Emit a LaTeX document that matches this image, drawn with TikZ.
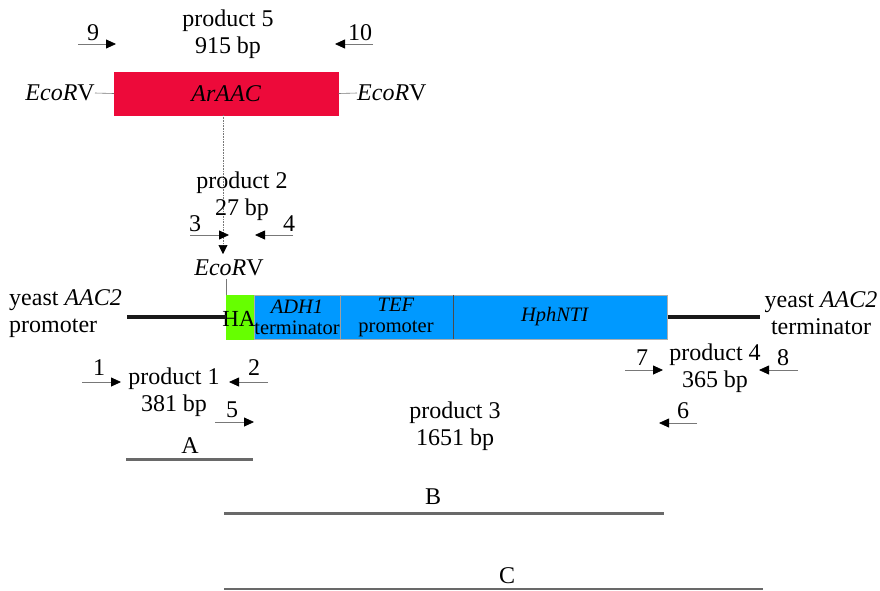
\documentclass[tikz,border=0pt]{standalone}
\usepackage{fontspec}
\setmainfont{Liberation Serif}
\usetikzlibrary{arrows.meta}
\definecolor{redbox}{RGB}{237,10,58}
\definecolor{bluebox}{RGB}{0,153,255}
\definecolor{greenbox}{RGB}{102,255,0}
\definecolor{shaft}{RGB}{120,120,120}
\definecolor{barcol}{RGB}{105,105,105}
\tikzset{
  txt/.style={font=\fontsize{24}{27}\selectfont, inner sep=0pt, align=center},
  smalltxt/.style={font=\fontsize{20.5}{21}\selectfont, inner sep=0pt, align=center},
  primer/.style={draw=shaft, line width=0.8pt, -{Triangle[length=10pt,width=9pt,color=black]}},
  thin/.style={draw=shaft, line width=0.6pt},
  gene/.style={draw=shaft!60, line width=0.5pt, minimum height=44pt, inner sep=0pt, anchor=west},
  backbone/.style={line width=4pt, draw=black!90},
  bar/.style={line width=3pt, draw=barcol}
}
\begin{document}
\begin{tikzpicture}[x=1pt,y=-1pt]
\useasboundingbox (0,0) rectangle (880,590);
% product 5
\node[txt] (p5) at (228,34) {product 5\\915 bp};
\node[txt] (n9) at (93,33) {9};
\coordinate (a9s) at (78,44); \coordinate (a9e) at (116,44);
\draw[primer] (a9s) -- (a9e);
\node[txt] (n10) at (360,33) {10};
\coordinate (a10s) at (373,44); \coordinate (a10e) at (335,44);
\draw[primer] (a10s) -- (a10e);
% ArAAC
\node[gene, fill=redbox, draw=redbox, minimum width=224pt, minimum height=43pt, txt] (araac) at (114,93.5) {\textit{ArAAC}};
\node[txt, anchor=east] (eL) at (95,93) {\textit{EcoR}V};
\node[txt, anchor=west] (eR) at (357,93) {\textit{EcoR}V};
\draw[thin] (eL.east) -- (araac.west);
\draw[thin] (araac.east) -- (eR.west);
% dotted line + arrowhead
\coordinate (dtop) at (223,115);
\coordinate (dbot) at (223,254);
\draw[draw=shaft, line width=0.6pt, densely dotted, -{Triangle[length=9pt,width=9pt,color=black]}] (dtop) -- (dbot);
% product 2
\node[txt] (p2) at (242,196) {product 2\\27 bp};
\node[txt] (n3) at (195,224) {3};
\coordinate (a3s) at (190,235); \coordinate (a3e) at (229,235);
\draw[primer] (a3s) -- (a3e);
\node[txt] (n4) at (289,224) {4};
\coordinate (a4s) at (293,235); \coordinate (a4e) at (255,235);
\draw[primer] (a4s) -- (a4e);
\node[txt] (eM) at (229,268) {\textit{EcoR}V};
% construct
\node[gene, fill=greenbox, draw=greenbox, minimum width=28pt] (ha) at (226,317) {};
\node[gene, fill=bluebox, minimum width=86pt] (adh) at (254,317) {};
\node[gene, fill=bluebox, minimum width=113pt] (tef) at (340,317) {};
\node[gene, fill=bluebox, minimum width=214pt] (hph) at (453,317) {};
\draw[draw=black!70, line width=0.6pt] (hph.north west) -- (hph.south west);
\draw[draw=shaft!70, line width=0.6pt] (tef.north west) -- (tef.south west);
\draw[thin] (eM.south -| ha.north west) ++(0,3) -- (ha.north west);
\node[txt, font=\fontsize{23}{23}\selectfont] (hat) at (239,319) {HA};
\node[smalltxt] (adht) at (297,317) {\textit{ADH1}\\terminator};
\node[smalltxt] (teft) at (396,317) {\textit{TEF}\\promoter};
\node[smalltxt] (hpht) at (555,317) {\textit{HphNTI}};
\coordinate (bbL) at (127,317);
\coordinate (bbR) at (760,317);
\draw[backbone] (bbL) -- (ha.west);
\draw[backbone] (hph.east) -- (bbR);
\node[txt, align=left, anchor=west] (yl) at (9,314) {yeast \textit{AAC2}\\promoter};
\node[txt] (yr) at (821,313) {yeast \textit{AAC2}\\terminator};
% product 1
\node[txt] (p1) at (174,392) {product 1\\381 bp};
\node[txt] (n1) at (99,368) {1};
\coordinate (a1s) at (82,382); \coordinate (a1e) at (121,382);
\draw[primer] (a1s) -- (a1e);
\node[txt] (n2) at (254,368) {2};
\coordinate (a2s) at (268,382); \coordinate (a2e) at (229,382);
\draw[primer] (a2s) -- (a2e);
\node[txt] (n5) at (232,410) {5};
\coordinate (a5s) at (215,422); \coordinate (a5e) at (254,422);
\draw[primer] (a5s) -- (a5e);
% product 3
\node[txt] (p3) at (455,426) {product 3\\1651 bp};
% product 4
\node[txt] (p4) at (715,368) {product 4\\365 bp};
\node[txt] (n7) at (642,358) {7};
\coordinate (a7s) at (625,370); \coordinate (a7e) at (663,370);
\draw[primer] (a7s) -- (a7e);
\node[txt] (n8) at (783,358) {8};
\coordinate (a8s) at (798,370); \coordinate (a8e) at (759,370);
\draw[primer] (a8s) -- (a8e);
\node[txt] (n6) at (683,411) {6};
\coordinate (a6s) at (697,423); \coordinate (a6e) at (659,423);
\draw[primer] (a6s) -- (a6e);
% bars
\node[txt] (lA) at (190,446) {A};
\coordinate (A1) at (126,459); \coordinate (A2) at (253,459);
\draw[bar] (A1) -- (A2);
\node[txt] (lB) at (433,497) {B};
\coordinate (B1) at (224,513); \coordinate (B2) at (664,513);
\draw[bar] (B1) -- (B2);
\node[txt] (lC) at (507,576) {C};
\coordinate (C1) at (224,588.5); \coordinate (C2) at (763,588.5);
\draw[bar, line width=2pt] (C1) -- (C2);
\end{tikzpicture}
\end{document}
